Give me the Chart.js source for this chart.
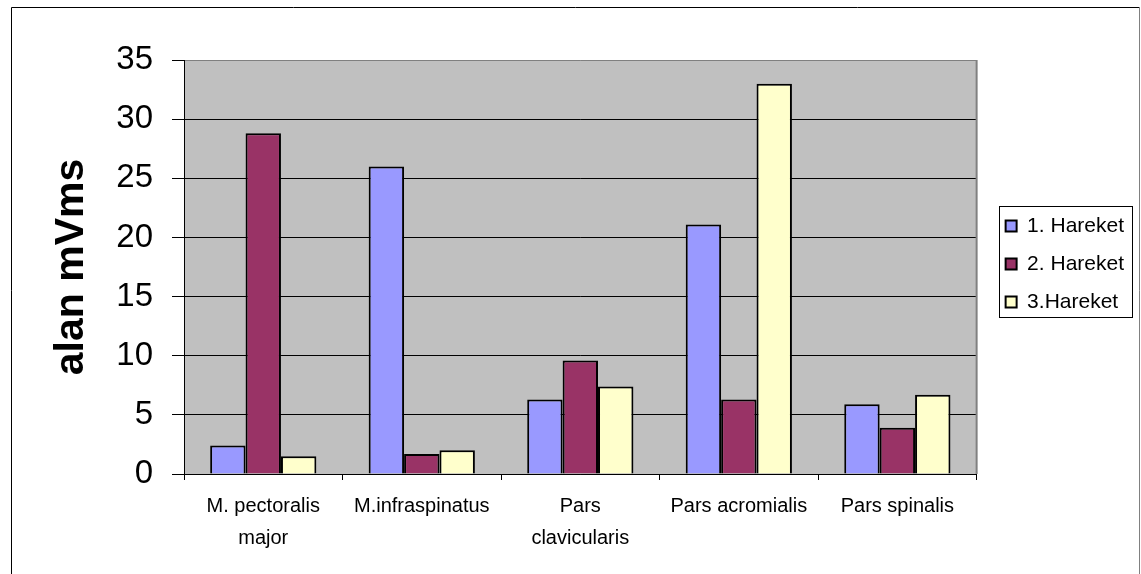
<!DOCTYPE html>
<html>
<head>
<meta charset="utf-8">
<title>alan mVms</title>
<script src="https://cdn.jsdelivr.net/npm/chart.js@4.4.1/dist/chart.umd.min.js"></script>
<style>
  html, body { margin: 0; padding: 0; background: #ffffff; }
  canvas { display: block; }
</style>
</head>
<body>
<canvas id="chart" width="1141" height="574"></canvas>
<script>
// Muscle groups on the category axis (multi-line labels as arrays)
const categories = [
  ["M. pectoralis", "major"],
  "M.infraspinatus",
  ["Pars", "clavicularis"],
  "Pars acromialis",
  "Pars spinalis"
];

// Area values (mVms) for each movement
const hareket1 = [2.4, 26.0, 6.3, 21.1, 5.9];
const hareket2 = [28.8, 1.7, 9.6, 6.3, 3.9];
const hareket3 = [1.5, 2.0, 7.4, 33.0, 6.7];

const seriesNames = ["1. Hareket", "2. Hareket", "3.Hareket"];
const seriesColors = ["#9999FF", "#993366", "#FFFFCC"];

const yMin = 0;
const yMax = 35;
const yStep = 5;
const yTitle = "alan mVms";

const FONT = "'Liberation Sans', Arial, sans-serif";
const LEGEND_SHIFT_X = 12;
const LEGEND_SHIFT_Y = -3;

// Page frame, plot background, plot edges and legend frame
const decorations = {
  id: "decorations",
  beforeDraw(chart) {
    const { ctx, chartArea: a, width, height } = chart;
    ctx.save();
    ctx.fillStyle = "#ffffff";
    ctx.fillRect(0, 0, width, height);
    ctx.fillStyle = "#C0C0C0";
    ctx.fillRect(a.left, a.top, a.right - a.left, a.bottom - a.top);
    // outer frame
    ctx.lineWidth = 1;
    ctx.strokeStyle = "#000000";
    ctx.beginPath();
    ctx.moveTo(11.5, height);
    ctx.lineTo(11.5, 7.5);
    ctx.lineTo(1139.5, 7.5);
    ctx.stroke();
    ctx.strokeStyle = "#808080";
    ctx.beginPath();
    ctx.moveTo(1139.5, 7.5);
    ctx.lineTo(1139.5, height);
    ctx.stroke();
    ctx.restore();
  },
  beforeDatasetsDraw(chart) {
    const { ctx, chartArea: a } = chart;
    ctx.save();
    ctx.strokeStyle = "#808080";
    ctx.lineWidth = 2;
    ctx.beginPath();
    ctx.moveTo(a.right, a.top);
    ctx.lineTo(a.right, a.bottom);
    ctx.stroke();
    ctx.restore();
  },
  afterLayout(chart) {
    const lg = chart.legend;
    if (!lg) return;
    lg.left += LEGEND_SHIFT_X;
    lg.right += LEGEND_SHIFT_X;
    lg.top += LEGEND_SHIFT_Y;
    lg.bottom += LEGEND_SHIFT_Y;
  },
  afterDraw(chart) {
    const lg = chart.legend;
    if (!lg || !lg.columnSizes) return;
    const pad = lg.options.labels.padding;
    const colH = lg.columnSizes[0].height;
    const itemsTop = ((lg.top + pad) + (lg.bottom - colH)) / 2;
    const itemsLeft = lg.left + pad;
    const { ctx } = chart;
    ctx.save();
    ctx.strokeStyle = "#000000";
    ctx.lineWidth = 1;
    const x0 = Math.round(itemsLeft - 7) + 0.5;
    const y0 = Math.round(itemsTop - 10) + 0.5;
    const x1 = x0 + 133;
    const y1 = Math.round(itemsTop + colH - 13) + 0.5;
    ctx.strokeRect(x0, y0, x1 - x0, y1 - y0);
    ctx.restore();
  }
};

const datasets = [hareket1, hareket2, hareket3].map((vals, i) => ({
  label: seriesNames[i],
  data: vals,
  backgroundColor: seriesColors[i],
  borderColor: "#000000",
  borderWidth: 2,
  borderSkipped: "start",
  categoryPercentage: 0.67,
  barPercentage: 1.0
}));

new Chart(document.getElementById("chart"), {
  type: "bar",
  data: { labels: categories, datasets },
  plugins: [decorations],
  options: {
    responsive: false,
    animation: false,
    devicePixelRatio: 1,
    layout: { padding: { left: 47, top: 60, right: 19, bottom: 0 } },
    plugins: {
      tooltip: { enabled: false },
      legend: {
        position: "right",
        align: "center",
        fullSize: false,
        labels: {
          font: { family: FONT, size: 21 },
          color: "#000000",
          boxWidth: 11,
          boxHeight: 11,
          padding: 17
        }
      }
    },
    scales: {
      x: {
        offset: true,
        grid: {
          display: true,
          offset: true,
          drawOnChartArea: false,
          drawTicks: true,
          tickLength: 6,
          color: "#000000",
          tickColor: "#000000"
        },
        border: { display: true, color: "#000000", width: 1 },
        ticks: {
          font: { family: FONT, size: 20, lineHeight: 1.6 },
          color: "#000000",
          padding: 10,
          maxRotation: 0,
          autoSkip: false
        },
        afterFit(scale) { scale.height = 100; }
      },
      y: {
        min: yMin,
        max: yMax,
        grid: {
          display: true,
          drawTicks: true,
          tickLength: 12,
          lineWidth: 1,
          color: (c) => (c.tick && c.tick.value === yMax ? "#808080" : "#000000"),
          tickColor: "#000000"
        },
        border: { display: true, color: "#000000", width: 1 },
        ticks: {
          stepSize: yStep,
          font: { family: FONT, size: 33 },
          color: "#000000",
          padding: 19
        },
        title: {
          display: true,
          text: yTitle,
          font: { family: FONT, size: 41, weight: "bold", lineHeight: 1.2 },
          color: "#000000",
          padding: { top: 0, bottom: 0 }
        },
        afterFit(scale) { scale.width = 137; }
      }
    }
  }
});
</script>
</body>
</html>
